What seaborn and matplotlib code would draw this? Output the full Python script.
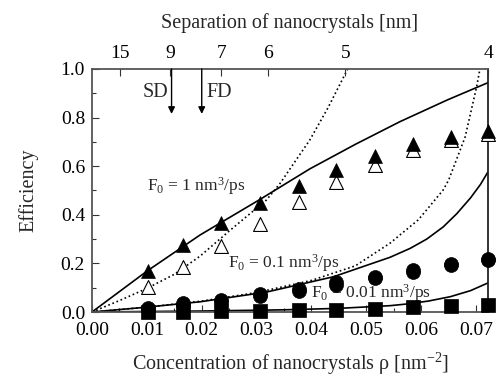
import numpy as np
import pandas as pd
import matplotlib
matplotlib.use("Agg")
import matplotlib.pyplot as plt
import seaborn as sns

# ---------------- data ----------------
rho = [0.0102, 0.0166, 0.0235, 0.0306, 0.0377, 0.0445, 0.0516, 0.0585, 0.0654, 0.0722]
eff_f1_filled = [0.170, 0.274, 0.368, 0.447, 0.518, 0.585, 0.640, 0.690, 0.721, 0.745]
eff_f1_open = [0.102, 0.185, 0.272, 0.362, 0.452, 0.535, 0.603, 0.665, 0.708, 0.733]
eff_f01 = [0.018, 0.036, 0.050, 0.076, 0.095, 0.123, 0.145, 0.172, 0.199, 0.217]
eff_f01_b = [0.010, 0.027, 0.040, 0.066, 0.086, 0.113, 0.138, 0.166, 0.194, 0.213]
eff_f001 = [0.001, 0.002, 0.003, 0.005, 0.007, 0.008, 0.012, 0.020, 0.024, 0.027]

solid_f1_x = [0.0, 0.0100, 0.0197, 0.0306, 0.0397, 0.0480, 0.0561, 0.0647, 0.0722]
solid_f1_y = [0.0, 0.168, 0.317, 0.463, 0.589, 0.690, 0.783, 0.872, 0.944]
dot_f1_x = [0.0, 0.0050, 0.0100, 0.0150, 0.0197, 0.0252, 0.0318, 0.0343, 0.0397, 0.0430, 0.0466]
dot_f1_y = [0.0, 0.047, 0.097, 0.155, 0.230, 0.337, 0.461, 0.530, 0.708, 0.840, 1.0]

solid_f01_x = [0.0, 0.0100, 0.0197, 0.0318, 0.0440, 0.0543, 0.0580, 0.0610, 0.0640, 0.0665, 0.0690, 0.0708, 0.0722]
solid_f01_y = [0.0, 0.020, 0.042, 0.082, 0.145, 0.225, 0.262, 0.300, 0.350, 0.405, 0.470, 0.525, 0.578]
dot_f01_x = [0.0, 0.0100, 0.0200, 0.0300, 0.0400, 0.0480, 0.0543, 0.0595, 0.0640, 0.0650, 0.0680, 0.0701, 0.0707]
dot_f01_y = [0.0, 0.020, 0.045, 0.080, 0.130, 0.190, 0.283, 0.380, 0.502, 0.543, 0.720, 0.927, 1.0]

solid_f001_x = [0.0, 0.0200, 0.0350, 0.0450, 0.0543, 0.0574, 0.0613, 0.0653, 0.0690, 0.0722]
solid_f001_y = [0.0, 0.004, 0.009, 0.015, 0.026, 0.033, 0.045, 0.063, 0.088, 0.120]

sep_ticks = [15, 9, 7, 6, 5, 4]
x_ticks = [0.00, 0.01, 0.02, 0.03, 0.04, 0.05, 0.06, 0.07]
y_ticks = [0.0, 0.2, 0.4, 0.6, 0.8, 1.0]
arrow_rho = [0.0145, 0.0200]
arrow_labels = ["SD", "FD"]


def sep_to_rho(d):
    return 2.0 / (np.sqrt(3.0) * np.asarray(d, dtype=float) ** 2)

# ---------------- style ----------------
sns.set_style("ticks")
plt.rcParams['font.family'] = ['Liberation Serif', 'DejaVu Serif']
plt.rcParams['mathtext.fontset'] = 'custom'
plt.rcParams['mathtext.rm'] = 'Liberation Serif'
plt.rcParams['mathtext.it'] = 'Liberation Serif:italic'
plt.rcParams['xtick.direction'] = 'in'
plt.rcParams['ytick.direction'] = 'in'

fig = plt.figure(figsize=(5.0, 3.78), dpi=100)
ax = fig.add_axes([0.184, 0.1746, 0.792, 0.6429])

lw = 1.2
for xs, ys, ls in [(solid_f1_x, solid_f1_y, '-'), (dot_f1_x, dot_f1_y, ':'),
                   (solid_f01_x, solid_f01_y, '-'), (dot_f01_x, dot_f01_y, ':'),
                   (solid_f001_x, solid_f001_y, '-')]:
    df = pd.DataFrame({'x': xs, 'y': ys})
    sns.lineplot(data=df, x='x', y='y', ax=ax, color='black', lw=lw, linestyle=ls,
                 sort=False, estimator=None)

ms = 100
sns.scatterplot(x=rho, y=eff_f001, ax=ax, marker='s', s=ms, color='black',
                edgecolor='black', linewidth=0.5, clip_on=False, zorder=5)
sns.scatterplot(x=rho, y=eff_f01_b, ax=ax, marker='o', s=ms, color='black',
                edgecolor='black', linewidth=0.5, clip_on=False, zorder=5)
sns.scatterplot(x=rho, y=eff_f01, ax=ax, marker='o', s=ms, color='black',
                edgecolor='black', linewidth=0.5, clip_on=False, zorder=6)
sns.scatterplot(x=rho, y=eff_f1_open, ax=ax, marker='^', s=ms, color='white',
                edgecolor='black', linewidth=0.8, clip_on=False, zorder=5)
sns.scatterplot(x=rho, y=eff_f1_filled, ax=ax, marker='^', s=ms, color='black',
                edgecolor='black', linewidth=0.5, clip_on=False, zorder=6)

ax.set_xlim(0, float(sep_to_rho(4)))
ax.set_ylim(0, 1.0)
ax.set_xticks(x_ticks)
ax.set_xticklabels([f"{v:.2f}" for v in x_ticks])
ax.set_xticks(np.arange(0.005, 0.072, 0.01), minor=True)
ax.set_yticks(y_ticks)
ax.set_yticklabels([f"{v:.1f}" for v in y_ticks])
ax.set_yticks([0.1, 0.3, 0.5, 0.7, 0.9], minor=True)
ax.tick_params(which='major', length=5, width=0.8, labelsize=14, colors='#333333',
               labelcolor='black', top=False, right=False)
ax.tick_params(which='minor', length=3, width=0.8, colors='#333333', top=False, right=False)
ax.tick_params(axis='x', pad=7)
ax.tick_params(axis='y', pad=5)

for sp in ax.spines.values():
    sp.set_color('#555555')
    sp.set_linewidth(1.3)
ax.spines['right'].set_color('#222222')

ax.set_xlabel("Concentration of nanocrystals ρ [nm$^{-2}$]", fontsize=14.5, labelpad=9)
ax.set_ylabel("Efficiency", fontsize=14.5, labelpad=16)

ax2 = ax.twiny()
ax2.set_xlim(ax.get_xlim())
ax2.set_xticks(sep_to_rho(sep_ticks))
ax2.set_xticklabels([str(s) for s in sep_ticks])
ax2.tick_params(which='major', length=5, width=0.8, labelsize=14, direction='in',
                colors='#333333', labelcolor='black', pad=5)
for sp in ax2.spines.values():
    sp.set_visible(False)
ax2.set_xlabel("Separation of nanocrystals [nm]", fontsize=14.5, labelpad=12)

# arrows SD / FD
for xa in arrow_rho:
    ax.annotate('', xy=(xa, 0.815), xytext=(xa, 1.0),
                arrowprops=dict(arrowstyle='-|>', color='black', lw=1.0,
                                mutation_scale=10, shrinkA=0, shrinkB=0))
ax.text(arrow_rho[0] - 0.0006, 0.905, arrow_labels[0], ha='right', va='center', fontsize=14.5)
ax.text(arrow_rho[1] + 0.0008, 0.905, arrow_labels[1], ha='left', va='center', fontsize=14.5)

ax.text(0.0100, 0.52, "F$_0$ = 1 nm$^3$/ps", ha='left', va='center', fontsize=12.5)
ax.text(0.0248, 0.20, "F$_0$ = 0.1 nm$^3$/ps", ha='left', va='center', fontsize=12.5)
ax.text(0.0400, 0.078, "F$_0$ = 0.01 nm$^3$/ps", ha='left', va='center', fontsize=12.5)

ax.set_facecolor('white')
fig.patch.set_facecolor('white')
fig.savefig("out.png", dpi=100)
